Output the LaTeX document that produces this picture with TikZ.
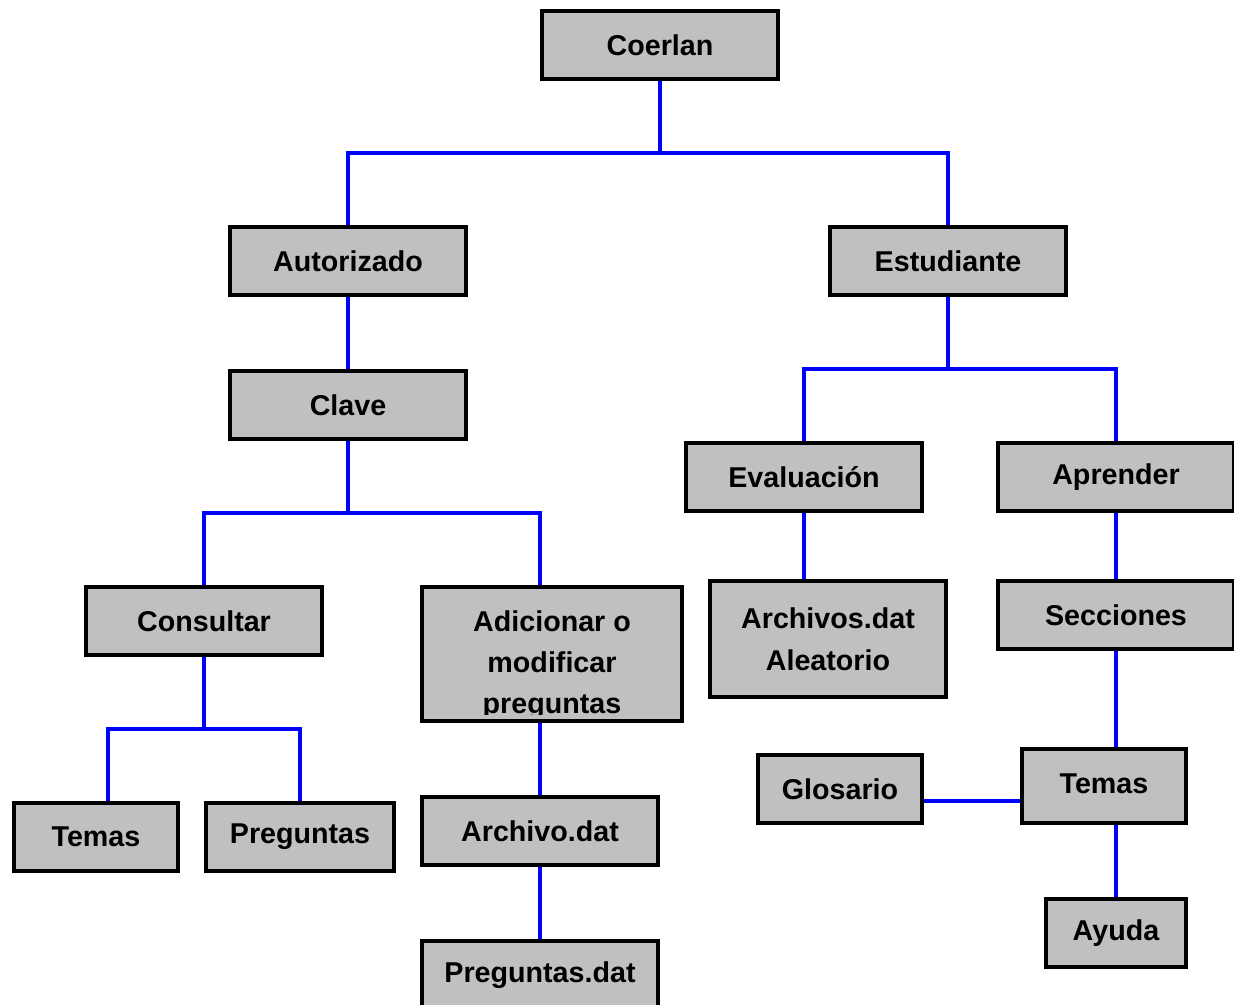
\documentclass[tikz,border=0pt]{standalone}
\usepackage{fontspec}
\setmainfont{Liberation Sans}
\usetikzlibrary{backgrounds}
\definecolor{boxgray}{RGB}{192,192,192}
\definecolor{linkblue}{RGB}{0,0,255}
\begin{document}
\begin{tikzpicture}[x=0.75pt,y=-0.75pt,
  box/.style={draw=black, line width=2.8pt, fill=boxgray, inner sep=0pt,
    font=\fontsize{21.5}{31.5}\selectfont\bfseries, align=center,
    minimum width=177pt, minimum height=51pt},
  boxtext/.style={inner sep=0pt, font=\fontsize{21.5}{31}\selectfont\bfseries, align=center},
  link/.style={draw=linkblue, line width=2.8pt}]
\clip (0,0) rectangle (1234,1005);
% nodes
\node[box] (coerlan) at (660,45) {Coerlan};
\node[box] (autorizado) at (348,261) {Autorizado};
\node[box] (estudiante) at (948,261) {Estudiante};
\node[box] (clave) at (348,405) {Clave};
\node[box] (evaluacion) at (804,477) {Evaluación};
\node[box] (aprender) at (1116,477) {Aprender};
\node[box] (consultar) at (204,621) {Consultar};
\node[box, minimum width=195pt, minimum height=100.5pt] (adicionar) at (552,654) {};
\begin{scope}
  \clip (424,589) rectangle (680,714);
  \node[boxtext] (adtext) at (552,665) {Adicionar o\\modificar\\preguntas};
\end{scope}
\node[box, minimum height=87pt] (archivos) at (828,639) {Archivos.dat\\Aleatorio};
\node[box] (secciones) at (1116,615) {Secciones};
\node[box, minimum width=123pt] (temasl) at (96,837) {Temas};
\node[box, minimum width=141pt] (preguntas) at (300,837) {Preguntas};
\node[box] (archivo) at (540,831) {Archivo.dat};
\node[box] (preguntasdat) at (540,975) {Preguntas.dat};
\node[box, minimum width=123pt] (glosario) at (840,789) {Glosario};
\node[box, minimum width=123pt, minimum height=55.5pt] (temasr) at (1104,786) {\raisebox{3pt}{Temas}};
\node[box, minimum width=105pt] (ayuda) at (1116,933) {Ayuda};
% junctions
\coordinate (j1) at (660,153);
\coordinate (j2) at (348,513);
\coordinate (j3) at (948,369);
\coordinate (j4) at (204,729);
\coordinate (gl) at ([yshift=-9pt]glosario.east);
% connectors
\begin{scope}[on background layer]
\draw[link] (coerlan.south) -- (j1);
\draw[link] (autorizado.north) |- (j1) -| (estudiante.north);
\draw[link] (autorizado.south) -- (clave.north);
\draw[link] (clave.south) -- (j2);
\draw[link] (consultar.north) |- (j2) -| (adicionar.north -| archivo.north);
\draw[link] (consultar.south) -- (j4);
\draw[link] ([xshift=9pt]temasl.north) |- (j4) -| (preguntas.north);
\draw[link] (adicionar.south -| archivo.north) -- (archivo.north);
\draw[link] (archivo.south) -- (preguntasdat.north);
\draw[link] (estudiante.south) -- (j3);
\draw[link] (evaluacion.north) |- (j3) -| (aprender.north);
\draw[link] (evaluacion.south) -- (evaluacion.south |- archivos.north);
\draw[link] (aprender.south) -- (secciones.north);
\draw[link] (secciones.south) -- (secciones.south |- temasr.north);
\draw[link] (temasr.south -| ayuda.north) -- (ayuda.north);
\draw[link] (gl) -- (gl -| temasr.west);
\end{scope}
\end{tikzpicture}
\end{document}
